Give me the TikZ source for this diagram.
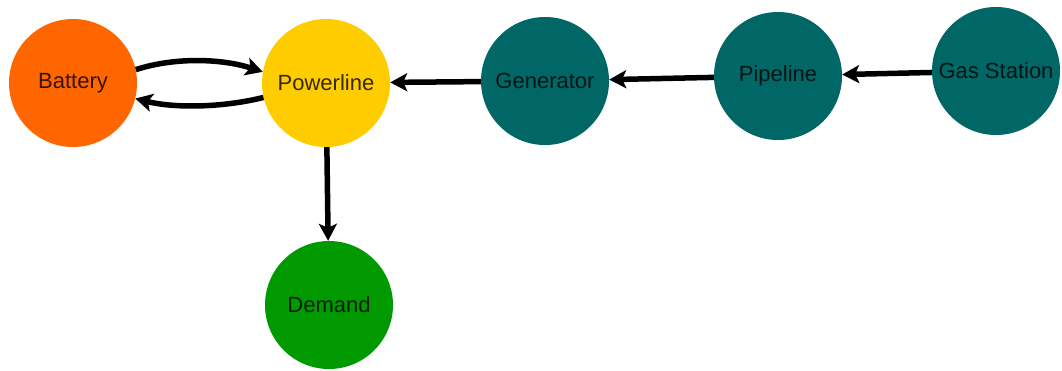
\documentclass[tikz,border=0pt]{standalone}
\usepackage{fontspec}
\setmainfont{Liberation Sans}
\usetikzlibrary{arrows.meta}
\definecolor{battcol}{HTML}{FF6600}
\definecolor{powcol}{HTML}{FFCC00}
\definecolor{gascol}{HTML}{006666}
\definecolor{demcol}{HTML}{009900}
\tikzset{
  unit/.style={circle, minimum size=128pt, inner sep=0pt, fill=#1,
    font=\fontsize{22}{24}\selectfont, text=black, text opacity=0.8},
  flow/.style={line width=5.5pt, draw=black,
    -{Stealth[length=17pt, width=18pt, inset=4pt]}}
}
\begin{document}
\begin{tikzpicture}[x=1pt, y=-1pt]
  \useasboundingbox (0,0) rectangle (1062,370);
  % energy units
  \node[unit=battcol] (bat) at (73,83)  {Battery};
  \node[unit=powcol]  (pow) at (326,83) {Powerline};
  \node[unit=gascol]  (gen) at (545,81) {Generator};
  \node[unit=gascol]  (pip) at (778,76) {Pipeline};
  \node[unit=gascol]  (gas) at (996,71) {Gas Station};
  \node[unit=demcol]  (dem) at (329,305) {Demand};
  % flows
  \draw[flow] (bat.12) .. controls +(40,-13) and +(-40,-13) .. (pow.170);
  \draw[flow] (pow.193) .. controls +(-40,10) and +(40,10) .. (bat.-14);
  \draw[flow] (gas) -- (pip);
  \draw[flow] (pip) -- (gen);
  \draw[flow] (gen) -- (pow);
  \draw[flow] (pow) -- (dem);
\end{tikzpicture}
\end{document}
